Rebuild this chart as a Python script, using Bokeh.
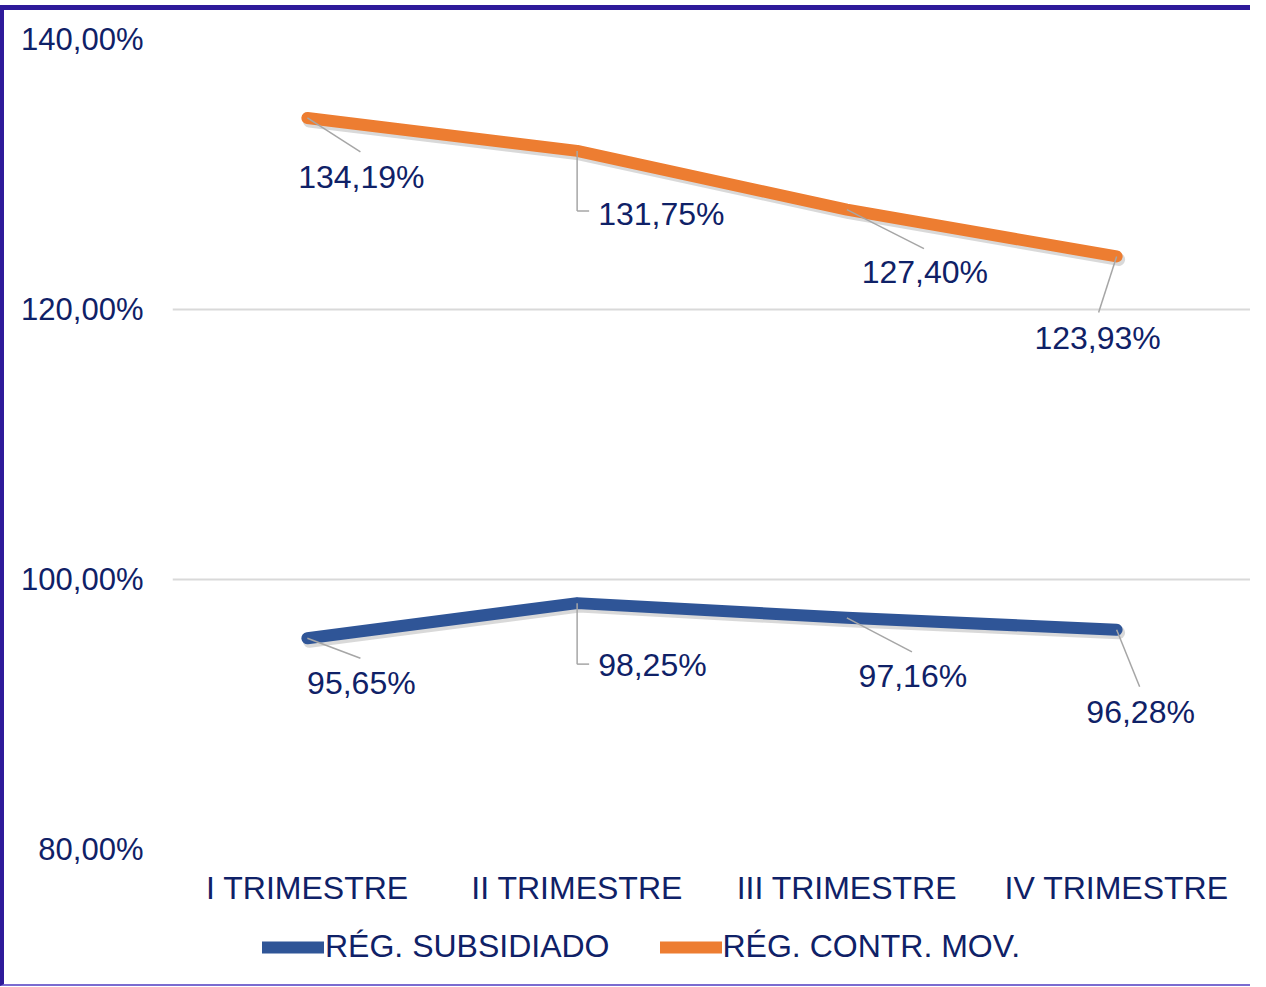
from bokeh.plotting import figure
from bokeh.layouts import column
from bokeh.models import (ColumnDataSource, FactorRange, Range1d, FixedTicker,
                          Legend, LegendItem)
from bokeh.core.properties import value
from bokeh.embed import file_html
from bokeh.resources import INLINE

# ---------------- data ----------------
categories = ["I TRIMESTRE", "II TRIMESTRE", "III TRIMESTRE", "IV TRIMESTRE"]
reg_subsidiado = [95.65, 98.25, 97.16, 96.28]
reg_contr_mov = [134.19, 131.75, 127.40, 123.93]
series_names = ["RÉG. SUBSIDIADO", "RÉG. CONTR. MOV."]
y_ticks = [80, 100, 120, 140]
y_tick_labels = ["80,00%", "100,00%", "120,00%", "140,00%"]

# ---------------- style ----------------
FONT = "Liberation Sans"
TXT = "#0F2167"
BLUE = "#2F5597"
ORANGE = "#ED7D31"
LEADER = "#A6A6A6"
BORDER = "#2E1A9A"
FS = "32px"
FS_Y = "31px"

# label placement (screen px: dx right, dy down) and anchor
lbl_off_blue = [(54, 45, "center"), (21, 62, "left"), (66, 58, "center"), (24, 82, "center")]
lbl_off_orange = [(54, 59, "center"), (21, 63, "left"), (78, 62, "center"), (-19, 82, "center")]
# leader end points (screen px from point)
lead_blue = [(53, 20), (0, 61), (65, 34), (23, 57)]
lead_orange = [(53, 34), (0, 60), (77, 39), (-18, 56)]
CAT_PX = 269.5   # px per category
PCT_PX = 13.5    # px per percentage point
SHADOW_PX = 3

W, H_MAIN, H_LEG = 1250, 905, 76
p = figure(width=W, height=H_MAIN, output_backend="svg", toolbar_location=None,
           x_range=FactorRange(factors=categories, range_padding=0),
           y_range=Range1d(80, 140),
           min_border_left=168, min_border_right=3,
           min_border_top=29, min_border_bottom=66)
p.styles = {"margin-top": "5px", "border-top": f"5px solid {BORDER}",
            "border-left": f"4px solid {BORDER}"}
p.outline_line_color = None
p.background_fill_color = "white"
p.border_fill_color = "white"

p.xgrid.grid_line_color = None
p.ygrid.grid_line_color = "#D9D9D9"
p.ygrid.grid_line_width = 2
p.yaxis.ticker = FixedTicker(ticks=y_ticks)
p.yaxis.major_label_overrides = {t: l for t, l in zip(y_ticks, y_tick_labels)}
for ax in (p.xaxis[0], p.yaxis[0]):
    ax.axis_line_color = None
    ax.major_tick_line_color = None
    ax.minor_tick_line_color = None
    ax.major_tick_out = 0
    ax.major_tick_in = 0
    ax.major_label_text_font = FONT
    ax.major_label_text_color = TXT
p.xaxis.major_label_text_font_size = FS
p.yaxis.major_label_text_font_size = FS_Y
p.yaxis.major_label_standoff = 29
p.xaxis.major_label_standoff = 20

# soft drop shadows under the lines
for vals in (reg_subsidiado, reg_contr_mov):
    p.line([(c, 2 / CAT_PX) for c in categories], [v - SHADOW_PX / PCT_PX for v in vals],
           line_color="#404040", line_alpha=0.2, line_width=13,
           line_cap="round", line_join="round")

r_b = p.line(categories, reg_subsidiado, line_color=BLUE, line_width=12,
             line_cap="round", line_join="round")
r_o = p.line(categories, reg_contr_mov, line_color=ORANGE, line_width=12,
             line_cap="round", line_join="round")


def leaders(vals, offs):
    x0, y0, x1, y1 = [], [], [], []
    for c, v, (dx, dy) in zip(categories, vals, offs):
        end_x = (c, dx / CAT_PX)
        end_y = v - dy / PCT_PX
        x0.append(c); y0.append(v); x1.append(end_x); y1.append(end_y)
        if dx == 0:  # elbow leader
            x0.append(c); y0.append(end_y); x1.append((c, 12 / CAT_PX)); y1.append(end_y)
    p.segment(x0=x0, y0=y0, x1=x1, y1=y1, line_color=LEADER, line_width=1.5)


def labels(vals, offs):
    for align in ("center", "left"):
        xs, ys, tx, xo, yo = [], [], [], [], []
        for c, v, (dx, dy, a) in zip(categories, vals, offs):
            if a != align:
                continue
            xs.append(c); ys.append(v)
            tx.append(f"{v:.2f}%".replace(".", ","))
            xo.append(dx); yo.append(dy)
        if not xs:
            continue
        src = ColumnDataSource(dict(x=xs, y=ys, t=tx, xo=xo, yo=yo))
        p.text(x="x", y="y", text="t", x_offset="xo", y_offset="yo", source=src,
               text_font=value(FONT), text_font_size=FS, text_color=TXT,
               text_align=align, text_baseline="middle")


leaders(reg_subsidiado, lead_blue)
leaders(reg_contr_mov, lead_orange)
labels(reg_subsidiado, lbl_off_blue)
labels(reg_contr_mov, lbl_off_orange)

# ---------------- legend strip ----------------
p2 = figure(width=W, height=H_LEG, output_backend="svg", toolbar_location=None,
            x_range=Range1d(0, 1), y_range=Range1d(0, 1),
            min_border=0, min_border_left=0, min_border_right=0,
            min_border_top=0, min_border_bottom=0)
p2.styles = {"border-left": f"4px solid {BORDER}", "border-bottom": "2px solid #7B6BD0"}
p2.axis.visible = False
p2.grid.visible = False
p2.outline_line_color = None
p2.background_fill_color = "white"
p2.border_fill_color = "white"
# legend keys only (no visible points)
nan = float("nan")
lb = p2.line(x=[0, 0], y=[nan, nan], line_color=BLUE, line_width=12, line_cap="round")
lo = p2.line(x=[0, 0], y=[nan, nan], line_color=ORANGE, line_width=12, line_cap="round")

legend = Legend(items=[LegendItem(label=series_names[0], renderers=[lb]),
                       LegendItem(label=series_names[1], renderers=[lo])],
                orientation="horizontal", location=(90, 21),
                label_text_font=FONT, label_text_font_size=FS, label_text_color=TXT,
                glyph_width=62, glyph_height=34, label_height=34,
                label_standoff=1, spacing=50,
                padding=0, margin=0, border_line_color=None,
                background_fill_alpha=0)
p2.add_layout(legend)

layout = column(p, p2, spacing=0)
open("out.html", "w").write(file_html(layout, INLINE))
